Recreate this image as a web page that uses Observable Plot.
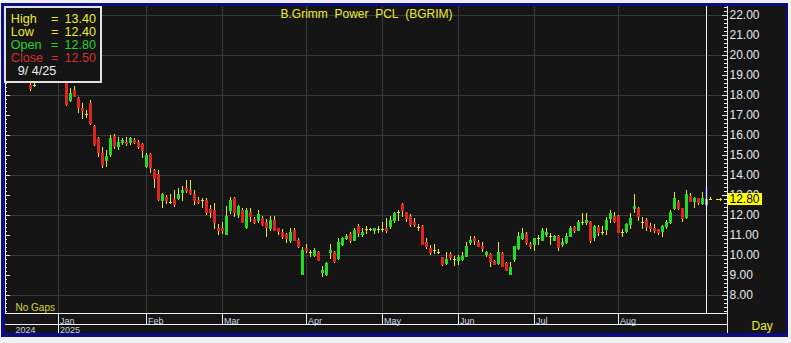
<!DOCTYPE html>
<html><head><meta charset="utf-8">
<script src="https://cdn.jsdelivr.net/npm/d3@7"></script>
<script src="https://cdn.jsdelivr.net/npm/@observablehq/plot@0.6"></script>
<style>
body{margin:0;background:#f0f0f0;width:791px;height:343px;overflow:hidden;position:relative;font-family:"Liberation Sans",Arial,sans-serif;}
#frame{position:absolute;left:1px;top:3px;width:787px;height:334px;box-sizing:border-box;border-style:solid;border-color:#0c0c86;border-width:3px 2px 4px 4px;background:#151515;}
#chart{position:absolute;left:0;top:0;}
#chart svg{shape-rendering:crispEdges;}
#info{position:absolute;left:4px;top:6px;width:98px;height:77px;box-sizing:border-box;border:2px solid #e2e2e2;background:#151515;font-size:12.6px;line-height:13px;white-space:pre;}
#info div{position:absolute;}
</style></head><body>
<div id="frame"></div>
<div id="chart"></div>
<div id="info"></div>
<script>
// ---- data (trading-day candles, mid-Dec 2024 .. 4 Sep 2025) ----
const opens = [
19.2,19.3,19.1,19.2,18.9,18.5,18.5,18.6,18.9,19.2,
19.0,18.9,19.0,18.9,18.6,17.72,18.25,17.83,17.37,17.05,
17.58,16.45,15.87,15.12,14.72,15.0,15.95,15.42,15.58,15.67,
15.58,15.75,15.67,15.55,14.42,15.05,14.25,14.05,12.72,12.88,
12.67,12.78,12.78,13.08,13.37,13.25,13.05,12.75,12.75,12.75,
12.28,12.25,11.37,11.37,11.0,12.22,12.87,12.0,12.25,11.33,
12.17,11.78,11.72,11.83,11.67,11.28,11.75,11.33,11.17,11.05,
10.72,11.25,10.75,9.0,10.37,10.13,9.95,10.17,9.12,9.0,
10.08,10.17,9.78,10.5,10.78,11.05,10.72,11.45,11.0,11.28,
11.28,11.22,11.28,11.28,11.37,11.38,11.72,12.13,12.55,12.13,
11.95,11.67,11.42,11.45,10.67,10.33,10.25,10.17,9.88,9.55,
10.05,9.78,9.72,9.75,9.92,10.58,10.87,10.67,10.45,10.0,
10.05,9.72,9.55,10.08,9.58,9.0,9.75,10.28,10.78,11.05,
10.55,10.5,10.83,10.72,11.0,10.95,10.72,10.95,10.5,10.58,
10.92,11.38,11.22,11.67,11.58,11.67,10.83,11.38,11.17,11.25,
11.78,11.95,11.95,11.17,11.17,11.5,12.28,12.33,11.67,11.75,
11.45,11.33,11.28,11.17,11.38,11.58,12.28,12.67,12.33,11.83,
12.95,12.67,12.83,12.55,12.8];
const highs = [
19.5,19.6,19.4,19.4,19.2,18.65,18.6,19.0,19.3,19.4,
19.2,19.1,19.2,19.1,18.7,18.33,18.45,17.9,17.58,17.25,
17.75,16.5,15.9,15.42,15.25,16.0,16.05,15.92,15.83,15.92,
15.88,15.83,15.75,15.6,15.08,15.1,14.3,14.25,13.08,13.0,
13.05,13.25,13.33,13.45,13.75,13.75,13.25,12.9,12.83,12.83,
12.5,12.58,11.55,11.67,12.45,12.92,12.9,12.5,12.33,12.33,
12.33,11.92,12.25,11.95,11.78,11.95,11.95,11.35,11.28,11.08,
11.33,11.33,10.83,10.38,10.55,10.25,10.33,10.2,9.45,9.67,
10.55,10.2,10.83,10.92,11.05,11.17,11.33,11.55,11.33,11.45,
11.35,11.33,11.45,11.67,11.83,11.95,12.17,12.25,12.58,12.15,
12.03,11.83,11.55,11.5,10.83,10.5,10.53,10.3,9.9,10.17,
10.17,9.95,10.0,10.17,10.67,10.95,10.95,10.75,10.67,10.2,
10.1,9.75,10.67,10.17,9.67,9.67,10.45,11.17,11.33,11.17,
10.67,10.83,11.0,11.33,11.33,11.08,11.0,11.0,10.83,11.08,
11.45,11.45,11.75,12.08,12.08,11.7,11.5,11.5,11.45,11.92,
12.25,12.17,12.0,11.28,11.6,12.12,13.05,12.4,11.92,11.83,
11.58,11.55,11.3,11.5,11.75,12.25,13.17,12.75,12.35,13.25,
13.08,12.92,12.85,13.17,13.4];
const lows = [
18.9,19.0,18.9,18.8,18.7,18.22,18.4,18.6,18.8,18.9,
18.8,18.7,18.8,18.7,17.45,17.67,17.9,17.08,16.78,16.83,
16.5,15.45,14.92,14.33,14.42,14.9,15.3,15.25,15.5,15.45,
15.5,15.55,15.28,14.83,14.33,14.08,13.33,12.7,12.33,12.55,
12.55,12.42,12.75,12.72,13.08,13.0,12.5,12.55,12.33,12.0,
11.83,11.28,11.0,11.05,11.0,12.05,11.92,11.85,11.6,11.3,
11.67,11.55,11.62,11.45,10.92,11.22,11.2,11.0,10.78,10.62,
10.62,10.7,10.35,8.98,10.08,9.9,9.92,9.7,8.92,8.95,
9.78,9.62,9.75,10.45,10.75,10.62,10.7,10.92,10.88,11.05,
11.2,11.05,11.08,11.17,11.12,11.28,11.62,11.72,11.92,11.67,
11.42,11.42,11.22,10.5,10.28,10.0,10.05,10.05,9.45,9.52,
9.75,9.45,9.5,9.72,9.9,10.5,10.5,10.4,10.17,9.92,
9.42,9.48,9.52,9.4,9.2,8.98,9.67,10.25,10.75,10.5,
10.28,10.22,10.5,10.7,10.92,10.5,10.7,10.22,10.42,10.55,
10.9,11.12,11.2,11.5,11.5,10.62,10.72,10.95,11.0,11.0,
11.62,11.6,11.08,10.92,11.12,11.28,12.08,11.72,11.28,11.22,
11.17,11.12,11.0,10.92,11.28,11.55,12.25,12.25,11.67,11.8,
12.65,12.33,12.5,12.5,12.4];
const closes = [
19.3,19.1,19.2,18.9,18.8,18.28,18.5,18.9,19.2,19.0,
18.9,19.0,18.9,18.8,17.5,18.08,17.92,17.33,17.22,17.05,
16.53,15.5,15.08,14.5,14.95,15.83,15.38,15.67,15.75,15.55,
15.83,15.58,15.38,15.22,15.0,14.33,13.78,12.75,13.05,12.72,
12.67,12.5,13.05,13.25,13.22,13.03,12.7,12.58,12.75,12.08,
12.12,11.58,11.2,11.2,11.95,12.75,12.08,12.45,11.62,12.25,
11.88,11.62,12.05,11.5,11.33,11.75,11.22,11.17,10.92,10.78,
11.17,10.72,10.38,10.25,10.2,10.13,10.25,9.72,9.25,9.62,
10.25,9.67,10.67,10.87,10.95,10.7,11.25,11.03,11.17,11.28,
11.28,11.33,11.28,11.28,11.22,11.75,12.08,12.13,12.22,11.78,
11.5,11.5,11.42,10.5,10.42,10.12,10.25,10.17,9.5,9.78,
9.83,9.78,9.88,9.95,10.45,10.75,10.7,10.42,10.28,10.17,
9.67,9.5,10.17,9.42,9.22,9.42,10.45,10.95,11.12,10.62,
10.38,10.83,10.83,11.25,11.17,10.95,10.95,10.33,10.67,10.95,
11.33,11.22,11.67,11.67,11.75,10.72,11.45,11.08,11.17,11.75,
12.08,11.67,11.12,11.17,11.55,11.83,12.45,11.92,11.67,11.42,
11.28,11.2,11.08,11.45,11.67,12.17,12.83,12.28,11.78,13.05,
12.67,12.83,12.58,12.83,12.5];

const months = ["Jan","Feb","Mar","Apr","May","Jun","Jul","Aug"];
const monthStart = [12,34,53,74,93,112,131,152];   // candle index of first trading day
const years = ["2024","2025"];
const yearTicks = [22,21,20,19,18,17,16,15,14,13,12,11,10,9,8];
const gridValues = [22,20,18,16,14,12,10,8];
const markerValue = [12.80];
const cursorDate = "9/ 4/25";
const title = "B.Grimm\u00a0\u00a0Power\u00a0\u00a0PCL\u00a0\u00a0(BGRIM)";

// ---- build table ----
const candles = opens.map((o, i) => ({i, o, h: highs[i], l: lows[i], c: closes[i]}));
const last = candles[candles.length - 1];
const normal = candles.slice(0, -1);
const bodies = normal.filter(d => d.o !== d.c);
const dojis = normal.filter(d => d.o === d.c);

const UP = "#22dd22", DOWN = "#e02424", WICK = "#e6e622", GRID = "#3a3a3a", YEL = "#ecec34";
const minorTicks = d3.range(36, 113).map(k => k / 5);

const xMin = -1.25, xMax = 179.25, yBot = 7.1, yRow = 6.55, yEnd = 6.1;

const chart = Plot.plot({
  width: 791, height: 343,
  marginLeft: 5, marginRight: 64, marginTop: 6, marginBottom: 30,
  x: {domain: [xMin, xMax], axis: null},
  y: {domain: [yBot, 22.45], axis: null},
  style: {background: "transparent", fontFamily: "'Liberation Sans', Arial, sans-serif", overflow: "visible"},
  marks: [
    // grid
    Plot.ruleY(gridValues, {stroke: GRID}),
    Plot.ruleX(monthStart, {stroke: GRID}),
    // left axis
    Plot.ruleX([xMin], {stroke: "#e8e8e8"}),
    Plot.ruleY(minorTicks, {x1: xMin, x2: xMin + 0.55, stroke: "#e8e8e8"}),
    Plot.ruleY(yearTicks, {x1: xMin, x2: 0, stroke: "#e8e8e8"}),
    // right axis
    Plot.ruleX([xMax], {y1: 22.45, y2: yEnd, stroke: "#e8e8e8"}),
    Plot.ruleY(minorTicks, {x1: xMax - 0.75, x2: xMax, stroke: "#e8e8e8"}),
    Plot.ruleY(yearTicks, {x1: xMax - 1.25, x2: xMax, stroke: "#e8e8e8"}),
    Plot.text(yearTicks, {x: xMax, y: d => d, text: d => d.toFixed(2), dx: 2, textAnchor: "start", fill: "#e6e8ec", fontSize: 12}),
    // date bar
    Plot.ruleY([yBot, yRow], {stroke: "#f0f0f0"}),
    Plot.ruleX(monthStart, {y1: yBot, y2: yRow, stroke: "#f0f0f0"}),
    Plot.ruleX([monthStart[0]], {y1: yRow, y2: yEnd, stroke: "#f0f0f0"}),
    Plot.text(months, {x: (d, k) => monthStart[k], y: yBot, dx: 1.5, dy: 10.5, textAnchor: "start", lineAnchor: "bottom", fontSize: 9, fill: "#cfd6e4"}),
    Plot.text([years[0]], {frameAnchor: "bottom-left", dx: 10, dy: 19.5, textAnchor: "start", lineAnchor: "bottom", fontSize: 9, fill: "#cfd6e4"}),
    Plot.text([years[1]], {x: monthStart[0], y: yBot, dx: 1.5, dy: 19.5, textAnchor: "start", lineAnchor: "bottom", fontSize: 9, fill: "#cfd6e4"}),
    Plot.text(["No Gaps"], {frameAnchor: "bottom-left", dx: 10, dy: -2.5, textAnchor: "start", lineAnchor: "bottom", fontSize: 10, fill: "#d6d63a"}),
    Plot.text(["Day"], {frameAnchor: "bottom-right", dx: 24, dy: 16.5, textAnchor: "start", lineAnchor: "bottom", fontSize: 12, fill: YEL}),
    // title
    Plot.text([title], {frameAnchor: "top", dy: 2.5, lineAnchor: "top", fontSize: 12, fill: YEL}),
    // candles
    Plot.ruleX(normal, {x: "i", y1: "l", y2: "h", stroke: WICK}),
    Plot.ruleX(bodies, {x: "i", y1: "o", y2: "c", stroke: d => d.c > d.o ? UP : DOWN, strokeWidth: 3}),
    Plot.ruleY(dojis, {y: "o", x1: d => d.i - 0.25, x2: d => d.i + 0.5, stroke: WICK}),
    // selected (cursor) candle
    Plot.ruleX([last], {x: "i", y1: "l", y2: "h", stroke: "#1e1e98", strokeWidth: 3}),
    Plot.ruleX([last], {x: "i", y1: "o", y2: "c", stroke: "#a89090", strokeWidth: 3}),
    Plot.ruleX([last], {x: "i", stroke: "#f4f4f4"}),
    // price marker
    Plot.ruleY(markerValue, {x1: last.i + 0.75, x2: last.i + 1.5, stroke: YEL}),
    Plot.ruleX(markerValue, {x: last.i + 1, y1: d => d, y2: d => d + 0.1, stroke: YEL}),
    Plot.arrow(markerValue, {x1: last.i + 2.5, x2: last.i + 3.75, y1: d => d, y2: d => d, stroke: YEL, headLength: 4, strokeWidth: 1}),
    Plot.rect(markerValue, {x1: xMax + 0.25, x2: xMax + 8.75, y1: d => d - 0.28, y2: d => d + 0.28, fill: "#ffff00"}),
    Plot.text(markerValue, {x: xMax, y: d => d, text: d => d.toFixed(2), dx: 2, textAnchor: "start", fill: "#000", fontSize: 12})
  ]
});
document.getElementById("chart").append(chart);

// ---- info box (values of the selected candle) ----
const info = document.getElementById("info");
const rows = [
  ["High", last.h, "#ecec34"],
  ["Low", last.l, "#ecec34"],
  ["Open", last.o, "#2ad22a"],
  ["Close", last.c, "#d43030"]
];
const rowTops = [5.0, 18.0, 30.7, 43.5];
rows.forEach(([lab, v, col], k) => {
  const a = document.createElement("div");
  a.style.cssText = `left:4.8px;top:${rowTops[k]}px;color:${col}`; a.textContent = lab;
  const b = document.createElement("div");
  b.style.cssText = `left:45px;top:${rowTops[k]}px;color:${col}`; b.textContent = "=";
  const c = document.createElement("div");
  c.style.cssText = `left:58.5px;top:${rowTops[k]}px;color:${col}`; c.textContent = v.toFixed(2);
  info.append(a, b, c);
});
const dt = document.createElement("div");
dt.style.cssText = "left:11.8px;top:56.5px;color:#f2f2f2"; dt.textContent = cursorDate;
info.append(dt);
</script>
</body></html>
